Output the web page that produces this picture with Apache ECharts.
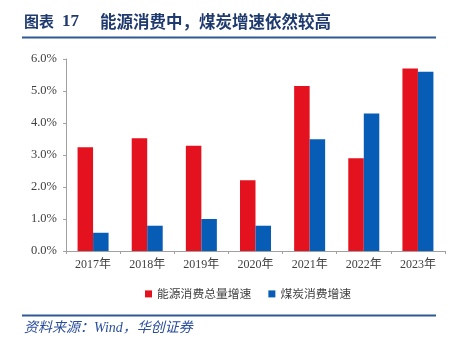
<!DOCTYPE html>
<html><head><meta charset="utf-8">
<script src="https://cdn.jsdelivr.net/npm/echarts@6/dist/echarts.min.js"></script>
<style>html,body{margin:0;padding:0;background:#fff}#c{width:458px;height:348px}</style>
</head><body><div id="c"></div>
<script>
const categories = ['2017年','2018年','2019年','2020年','2021年','2022年','2023年'];
const energyGrowth = [3.24, 3.52, 3.29, 2.21, 5.16, 2.90, 5.70];
const coalGrowth = [0.57, 0.79, 1.00, 0.79, 3.49, 4.30, 5.60];
const seriesNames = ['能源消费总量增速', '煤炭消费增速'];
const titleLabel = '图表';
const titleNumber = '17';
const titleText = '能源消费中，煤炭增速依然较高';
const sourceText = '资料来源：Wind，华创证券';

const navy = '#1F3A6E';
const lineBlue = '#2E5A94';
const serif = '"Liberation Serif","Noto Sans CJK SC",serif';
const chart = echarts.init(document.getElementById('c'));
chart.setOption({
  animation: false,
  backgroundColor: '#fff',
  graphic: [
    {type:'text', left:24, top:14, style:{text:titleLabel, font:'bold 15px "Noto Sans CJK SC"', fill:navy}},
    {type:'text', left:62, top:13, style:{text:titleNumber, font:'bold 17px "Liberation Serif"', fill:navy}},
    {type:'text', left:100, top:13, style:{text:titleText, font:'bold 16.5px "Noto Sans CJK SC"', fill:navy}},
    {type:'line', shape:{x1:22,y1:37.5,x2:436,y2:37.5}, style:{stroke:lineBlue, lineWidth:2}},
    {type:'line', shape:{x1:22,y1:315.5,x2:436,y2:315.5}, style:{stroke:lineBlue, lineWidth:2}},
    {type:'text', left:24, top:321, style:{text:sourceText, font:'italic 14px "Liberation Serif","Noto Sans CJK SC"', fill:'#2B4E9B'}}
  ],
  legend: {
    data: seriesNames,
    top: 283,
    left: 140,
    itemWidth: 7, itemHeight: 7,
    itemGap: 17,
    icon: 'rect',
    textStyle: {fontFamily:'"Noto Sans CJK SC"', fontSize:11.8, color:'#404040'}
  },
  grid: {left:66, right:13, top:59, bottom:97},
  xAxis: {
    type:'category', data: categories,
    axisLine:{lineStyle:{color:'#A0A0A0'}},
    axisTick:{show:true, length:3, lineStyle:{color:'#A0A0A0'}},
    axisLabel:{fontFamily:serif, fontSize:12, color:'#404040', margin:8}
  },
  yAxis: {
    type:'value', min:0, max:6, interval:1,
    axisLine:{show:true, lineStyle:{color:'#A0A0A0'}},
    axisTick:{show:true, length:3, lineStyle:{color:'#A0A0A0'}},
    splitLine:{show:false},
    axisLabel:{fontFamily:serif, fontSize:12.5, color:'#404040', margin:9, formatter: v => v.toFixed(1) + '%'}
  },
  series: [
    {name:seriesNames[0], type:'bar', data:energyGrowth, barWidth:15.5, barGap:'0%', itemStyle:{color:'#E3121E'}},
    {name:seriesNames[1], type:'bar', data:coalGrowth, barWidth:15.5, barGap:'0%', itemStyle:{color:'#075DB6'}}
  ]
});
</script></body></html>
